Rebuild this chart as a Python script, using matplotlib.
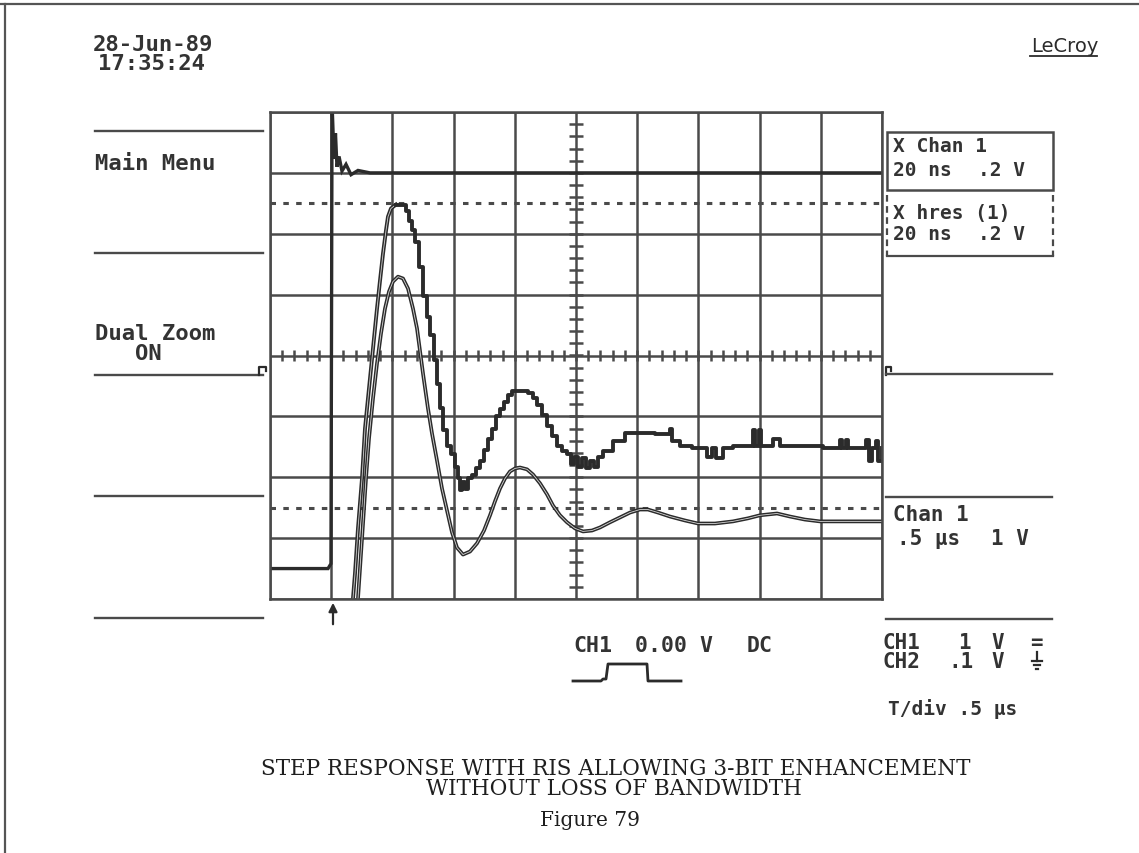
import numpy as np
import matplotlib
matplotlib.use("Agg")
import matplotlib.pyplot as plt
from matplotlib.patches import Rectangle

# ---------------- data ----------------
# Main trace "Chan 1": 0.5 us/div, 1 V/div (time from trigger, volts from screen centre)
chan1_t_us = [-0.50, -0.026, -0.002, 0.007, 0.023, 0.035, 0.047, 0.064, 0.088, 0.121, 0.162, 0.219, 0.317, 4.50]
chan1_v = [-3.50, -3.50, -3.42, 4.14, 3.23, 3.65, 3.10, 3.27, 3.03, 3.14, 2.97, 3.04, 3.00, 3.00]

# Zoom trace "X Chan 1" (raw, quantised): 20 ns/div, 0.2 V/div
xchan1_t_ns = [6.47, 7.78, 8.76, 10.07, 11.05, 12.03, 13.01, 13.99, 14.97, 15.95,
               16.93, 17.91, 18.56, 19.54, 21.18, 23.14, 24.44, 25.42, 26.41, 27.39,
               28.69, 30.00, 31.31, 32.29, 33.59, 34.57, 35.56, 36.54, 37.84, 39.15,
               40.46, 41.44, 42.09, 42.75, 43.73, 44.71, 46.01, 47.32, 48.63, 49.94,
               51.24, 52.55, 53.86, 55.16, 56.47, 57.78, 59.09, 61.70, 64.31, 65.95,
               67.26, 68.89, 70.52, 72.16, 73.79, 75.43, 77.06, 78.37, 79.35, 80.65,
               81.96, 83.27, 84.58, 85.88, 87.19, 88.82, 92.09, 96.01, 100.9, 105.8,
               110.1, 110.7, 111.4, 114.0, 117.9, 122.8, 124.4, 125.8, 128.0, 131.3,
               137.5, 137.8, 138.5, 139.8, 140.5, 144.4, 146.7, 160.7, 166.3, 166.9,
               168.2, 168.9, 173.8, 174.8, 175.8, 176.7, 178.0, 178.7, 180.0]
xchan1_v = [-0.880, -0.716, -0.568, -0.404, -0.240, -0.141, -0.043, 0.056, 0.154, 0.246,
            0.335, 0.411, 0.456, 0.483, 0.496, 0.496, 0.476, 0.443, 0.411, 0.374,
            0.292, 0.197, 0.128, 0.066, -0.016, -0.092, -0.174, -0.246, -0.296, -0.322,
            -0.365, -0.404, -0.443, -0.417, -0.437, -0.404, -0.391, -0.371, -0.348, -0.312,
            -0.273, -0.240, -0.200, -0.177, -0.154, -0.131, -0.118, -0.115, -0.122, -0.141,
            -0.164, -0.197, -0.230, -0.263, -0.296, -0.315, -0.325, -0.358, -0.332, -0.365,
            -0.338, -0.371, -0.345, -0.365, -0.332, -0.315, -0.282, -0.256, -0.253, -0.259,
            -0.259, -0.240, -0.282, -0.296, -0.305, -0.332, -0.305, -0.338, -0.305, -0.296,
            -0.296, -0.246, -0.296, -0.246, -0.296, -0.273, -0.296, -0.305, -0.276, -0.305,
            -0.276, -0.305, -0.305, -0.279, -0.348, -0.305, -0.282, -0.345, -0.305]
xchan1_edge_points = 15   # first samples form the fast rising edge (drawn unstepped)

# Zoom trace "X hres (1)" (enhanced resolution): 20 ns/div, 0.2 V/div
xhres_t_ns = [7.45, 8.76, 10.07, 11.37, 12.35, 13.66, 14.97, 16.27, 17.58, 18.89,
              20.20, 21.83, 23.46, 25.10, 26.73, 28.04, 30.00, 31.63, 32.94, 34.57,
              36.21, 37.84, 39.48, 41.11, 43.07, 45.36, 47.65, 49.94, 51.90, 53.53,
              55.16, 56.80, 58.43, 60.07, 61.70, 63.99, 65.95, 68.24, 70.52, 72.48,
              74.77, 77.06, 79.67, 82.29, 85.23, 87.84, 91.11, 94.38, 97.65, 100.9,
              103.5, 106.8, 110.7, 115.6, 119.9, 125.4, 131.3, 136.2, 140.1, 145.7,
              149.9, 154.8, 159.7, 169.5, 180.0]
xhres_v = [-0.929, -0.798, -0.601, -0.404, -0.273, -0.141, -0.026, 0.072, 0.154, 0.210,
           0.243, 0.259, 0.253, 0.220, 0.154, 0.089, -0.059, -0.174, -0.256, -0.345,
           -0.437, -0.509, -0.581, -0.631, -0.654, -0.644, -0.617, -0.575, -0.525, -0.479,
           -0.437, -0.404, -0.381, -0.371, -0.368, -0.374, -0.391, -0.420, -0.456, -0.493,
           -0.525, -0.548, -0.568, -0.578, -0.575, -0.565, -0.548, -0.532, -0.516, -0.506,
           -0.506, -0.516, -0.529, -0.542, -0.552, -0.552, -0.545, -0.535, -0.525, -0.519,
           -0.529, -0.539, -0.545, -0.545, -0.545]

# scope settings
chan1_us_per_div, chan1_v_per_div = 0.5, 1.0
zoom_ns_per_div, zoom_v_per_div = 20.0, 0.2
trigger_div = 1.0

date_text = "28-Jun-89"
time_text = "17:35:24"
caption_lines = ["STEP RESPONSE WITH RIS ALLOWING 3-BIT ENHANCEMENT",
                 "WITHOUT LOSS OF BANDWIDTH"]
figure_label = "Figure 79"

# ---------------- figure ----------------
W, H = 1139, 854
fig = plt.figure(figsize=(W / 100, H / 100), dpi=100)
fig.patch.set_facecolor("white")

INK = "#2b2b2b"
TXT = "#333333"
GRID = "#4a4a4a"
MONO = "DejaVu Sans Mono"
SERIF = "DejaVu Serif"

# page overlay in pixel coordinates
pax = fig.add_axes([0, 0, 1, 1], zorder=0)
pax.set_xlim(0, W)
pax.set_ylim(H, 0)
pax.axis("off")

def mono(x, y, s, size=16):
    pax.text(x, y, s, family=MONO, fontsize=size, fontweight="bold", color=TXT,
             va="center", ha="left")

# scope grid axes
gl, gt, gr, gb = 270, 113, 882, 600
gax = fig.add_axes([gl / W, (H - gb) / H, (gr - gl) / W, (gb - gt) / H], zorder=2)
gax.set_facecolor("none")
gax.set_xlim(0, 10)
gax.set_ylim(-4, 4)
gax.set_xticks(np.arange(0, 11))
gax.set_yticks(np.arange(-4, 5))
gax.tick_params(length=0, labelbottom=False, labelleft=False)
gax.grid(True, color=GRID, lw=1.8)
for s in gax.spines.values():
    s.set_color(GRID)
    s.set_linewidth(1.8)

# centre graticule minor ticks
gax.vlines(np.arange(0.2, 10.0, 0.2), -0.09, 0.09, color=GRID, lw=1.8)
gax.hlines(np.arange(-3.8, 4.0, 0.2), 4.88, 5.12, color=GRID, lw=1.8)
# dashed reference levels
for lvl in (2.5, -2.5):
    gax.axhline(lvl, color=GRID, lw=2.2, ls=(0, (1.8, 2.4)))

# traces
cx = np.array(chan1_t_us) / chan1_us_per_div + trigger_div
cy = np.array(chan1_v) / chan1_v_per_div
gax.plot(cx, cy, color=INK, lw=2.4, solid_joinstyle="miter")

qx = np.array(xchan1_t_ns) / zoom_ns_per_div + trigger_div
qy = np.array(xchan1_v) / zoom_v_per_div
k = xchan1_edge_points
gax.plot(qx[:k], qy[:k], color=INK, lw=2.8)
gax.plot(qx[:k], qy[:k], color="#d0d0d0", lw=0.6)
gax.plot(qx[k - 1:], qy[k - 1:], color=INK, lw=2.8, drawstyle="steps-post")

hx = np.array(xhres_t_ns) / zoom_ns_per_div + trigger_div
hy = np.array(xhres_v) / zoom_v_per_div
gax.plot(hx, hy, color=INK, lw=2.7)
gax.plot(hx, hy, color="#d6d6d6", lw=0.6)

# ---------------- page furniture ----------------
# scan border
pax.plot([0, W], [5, 5], color="#555555", lw=1.6)
pax.plot([5, 5], [5, H], color="#555555", lw=1.6)

# date / time / logo
mono(93, 45, date_text)
mono(98, 64, time_text)
pax.text(1031, 46, "LeCroy", family="DejaVu Sans", fontsize=14, color=INK, va="center", ha="left")
pax.plot([1030, 1097], [57, 57], color=INK, lw=1.3)

# left menu
for y in (132, 254, 376, 497, 619):
    pax.plot([95, 263], [y, y], color=GRID, lw=1.7)
mono(95, 164, "Main Menu")
mono(95, 334, "Dual Zoom")
mono(135, 354, "ON")
# ground markers at the graticule edges
pax.plot([259, 259, 266, 266], [376, 368, 368, 372], color=INK, lw=1.6)
pax.plot([886, 886, 891, 891], [376, 368, 368, 372], color=INK, lw=1.6)

# right panel boxes
pax.add_patch(Rectangle((887, 133), 166, 58, fill=False, ec=GRID, lw=1.8))
mono(893, 146, "X Chan 1", 14)
mono(893, 171, "20 ns", 14)
mono(978, 171, ".2 V", 14)
pax.plot([887, 887], [196, 257], color=GRID, lw=1.6, ls=(0, (3, 2)))
pax.plot([1053, 1053], [196, 257], color=GRID, lw=1.6, ls=(0, (3, 2)))
pax.plot([887, 1053], [257, 257], color=GRID, lw=1.6)
mono(893, 213, "X hres (1)", 14)
mono(893, 234, "20 ns", 14)
mono(978, 234, ".2 V", 14)

for y in (375, 498, 620):
    pax.plot([886, 1052], [y, y], color=GRID, lw=1.7)
mono(893, 515, "Chan 1", 15)
mono(897, 539, ".5 µs", 15)
mono(991, 539, "1 V", 15)

mono(882, 643, "CH1", 15)
mono(958, 643, "1", 15)
mono(991, 643, "V", 15)
mono(1030, 643, "=", 15)
mono(882, 662, "CH2", 15)
mono(948, 662, ".1", 15)
mono(991, 662, "V", 15)
# ground symbol
pax.plot([1037, 1037], [653, 662], color=INK, lw=1.6)
pax.plot([1032, 1042], [662, 662], color=INK, lw=1.6)
pax.plot([1034, 1040], [666, 666], color=INK, lw=1.6)
pax.plot([1036, 1038], [670, 670], color=INK, lw=1.6)
mono(888, 709, "T/div .5 µs", 14)

# trigger readout + icon
mono(573, 646, "CH1", 15.5)
mono(635, 646, "0.00 V", 15.5)
mono(747, 646, "DC", 15.5)
pax.plot([573, 601, 603, 606, 608, 647, 648, 681],
         [682, 682, 680, 680, 665, 665, 682, 682], color=INK, lw=2.0)

# trigger arrow below the graticule
pax.annotate("", xy=(333, 601), xytext=(333, 628),
             arrowprops=dict(arrowstyle="-|>,head_length=0.5,head_width=0.25", color=INK, lw=1.6))

# caption
pax.text(616, 769, caption_lines[0], family=SERIF, fontsize=15.5, color="#1e1e1e",
         va="center", ha="center")
pax.text(614, 789, caption_lines[1], family=SERIF, fontsize=15.5, color="#1e1e1e",
         va="center", ha="center")
pax.text(590, 821, figure_label, family=SERIF, fontsize=14.5, color="#1e1e1e",
         va="center", ha="center")

fig.savefig("out.png", dpi=100, facecolor="white")
